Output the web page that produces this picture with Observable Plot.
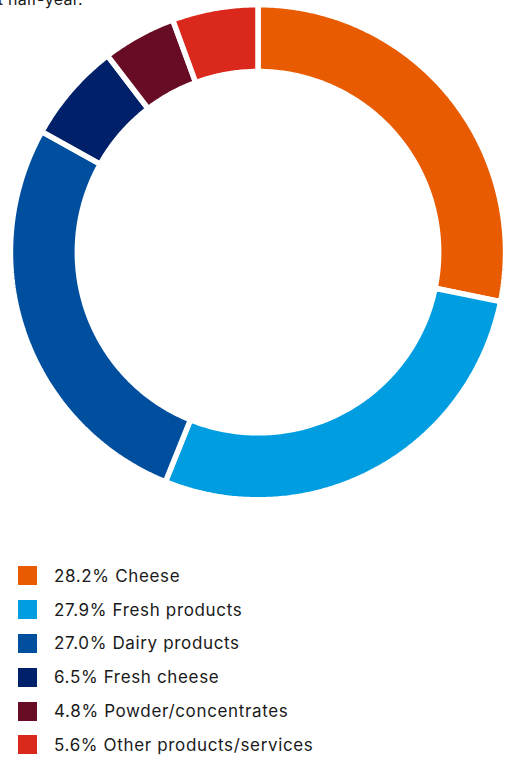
<!DOCTYPE html>
<html>
<head>
<meta charset="utf-8">
<script src="https://cdn.jsdelivr.net/npm/d3@7"></script>
<script src="https://cdn.jsdelivr.net/npm/@observablehq/plot@0.6"></script>
<style>
  html, body { margin: 0; padding: 0; background: #fff; width: 505px; height: 760px; overflow: hidden; }
  body { position: relative; font-family: Inter, "Open Sans", sans-serif; color: #1a1a1a; }
  #title { position: absolute; right: 422px; top: -11px; white-space: nowrap; font-size: 16px; letter-spacing: 0.3px; }
  #chart { position: absolute; left: 0; top: 0; }
  #legend { position: absolute; left: 18px; top: 567px; }
  .row { display: flex; align-items: center; height: 33.8px; }
  .sw { width: 19px; height: 19px; margin-right: 17px; flex: none; transform: translateY(-8px); }
  .lab { font-size: 17px; letter-spacing: 0.65px; transform: translateY(-8px); }
</style>
</head>
<body>
<div id="title">first half-year.</div>
<div id="chart"></div>
<div id="legend"></div>
<script>
const categories = ["Cheese", "Fresh products", "Dairy products", "Fresh cheese", "Powder/concentrates", "Other products/services"];
const shares = [28.2, 27.9, 27.0, 6.5, 4.8, 5.6];
const colors = ["#E85B00", "#009EE0", "#004F9E", "#00216A", "#680B25", "#DA291C"];

const W = 505, H = 505;
const R = 244.8;            // outer radius in px
const gap = 5.5;            // white separator width in px
const rOut = (R + gap / 2) / R;
const rIn = (183.4 - gap / 2) / R;

const pie = d3.pie().sort(null).value(d => d)(shares);
const pts = [];
pie.forEach((p, i) => {
  const cat = categories[i];
  const n = Math.max(8, Math.ceil((p.endAngle - p.startAngle) / (Math.PI / 360)));
  for (let k = 0; k <= n; k++) {
    const a = p.startAngle + (p.endAngle - p.startAngle) * k / n;
    pts.push({cat, x: rOut * Math.sin(a), y: rOut * Math.cos(a)});
  }
  for (let k = n; k >= 0; k--) {
    const a = p.startAngle + (p.endAngle - p.startAngle) * k / n;
    pts.push({cat, x: rIn * Math.sin(a), y: rIn * Math.cos(a)});
  }
});

const chart = Plot.plot({
  width: W,
  height: H,
  marginLeft: 12.7,
  marginRight: 2.7,
  marginTop: 6.9,
  marginBottom: 8.5,
  x: {domain: [-1, 1], axis: null},
  y: {domain: [-1, 1], axis: null},
  color: {domain: categories, range: colors},
  marks: [
    Plot.line(pts, {x: "x", y: "y", z: "cat", fill: "cat", stroke: "white", strokeWidth: gap, curve: "linear-closed", strokeLinejoin: "miter"})
  ]
});
document.getElementById("chart").appendChild(chart);

const legend = document.getElementById("legend");
categories.forEach((c, i) => {
  const row = document.createElement("div");
  row.className = "row";
  row.innerHTML = `<div class="sw" style="background:${colors[i]}"></div><div class="lab">${shares[i].toFixed(1)}% ${c}</div>`;
  legend.appendChild(row);
});
</script>
</body>
</html>
